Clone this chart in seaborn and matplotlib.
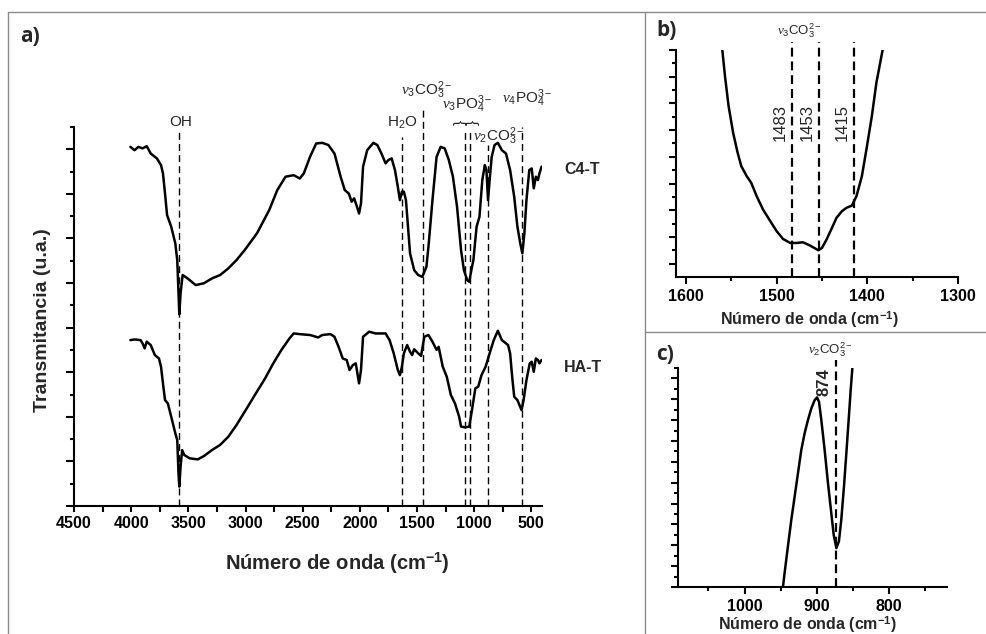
import numpy as np
import pandas as pd
import matplotlib
matplotlib.use("Agg")
import matplotlib.pyplot as plt
from matplotlib.lines import Line2D
from matplotlib.ticker import MultipleLocator, FixedLocator
import seaborn as sns

# ---------------- datos ----------------
# a) espectros FTIR completos (número de onda, transmitancia en u.a.)
c4t_wn = [4007, 3971, 3936, 3900, 3864, 3829, 3775, 3739, 3722, 3704, 3686, 3650, 3614, 3597,
          3579, 3568, 3550, 3507, 3436, 3364, 3293, 3222, 3150, 3079, 3007, 2900, 2793, 2722,
          2650, 2579, 2525, 2490, 2436, 2382, 2329, 2275, 2222, 2168, 2132, 2097, 2072, 2050,
          2025, 2007, 1990, 1972, 1936, 1882, 1847, 1811, 1775, 1750, 1722, 1693, 1668, 1650,
          1632, 1615, 1597, 1579, 1561, 1525, 1490, 1454, 1418, 1400, 1365, 1329, 1293, 1258,
          1222, 1186, 1150, 1115, 1090, 1061, 1043, 1025, 1007, 979, 954, 929, 907, 893, 879,
          865, 847, 822, 793, 758, 722, 686, 650, 622, 597, 579, 561, 543, 518, 497, 479, 461,
          443, 429, 411]
c4t_t = [16.11, 15.96, 16.11, 16.04, 16.14, 15.81, 15.59, 15.29, 14.92, 14.02, 13.05, 12.53,
         11.78, 11.03, 8.60, 9.54, 10.36, 10.21, 9.91, 9.99, 10.21, 10.36, 10.66, 11.03, 11.48,
         12.23, 13.27, 14.17, 14.77, 14.84, 14.69, 14.92, 15.66, 16.26, 16.29, 16.19, 15.81,
         14.77, 14.17, 14.02, 13.65, 13.80, 13.42, 13.12, 13.57, 15.22, 15.96, 16.29, 16.19,
         15.81, 15.37, 15.52, 15.59, 15.07, 14.32, 13.72, 14.10, 14.10, 13.72, 12.53, 11.33,
         10.58, 10.36, 10.28, 10.73, 11.63, 13.72, 15.66, 16.11, 16.04, 15.52, 14.77, 13.42,
         11.48, 10.58, 10.13, 10.06, 10.58, 11.03, 12.53, 12.97, 14.62, 15.29, 15.07, 13.72,
         14.62, 15.66, 16.19, 16.29, 15.96, 15.81, 15.07, 13.87, 12.53, 11.78, 11.33, 12.23,
         13.72, 15.07, 15.14, 14.25, 14.77, 14.62, 14.92, 15.22]

hat_wn = [4007, 3971, 3918, 3900, 3882, 3864, 3829, 3793, 3757, 3739, 3722, 3704, 3679, 3650,
          3614, 3597, 3586, 3579, 3568, 3554, 3536, 3489, 3418, 3364, 3293, 3222, 3150, 3079,
          3007, 2900, 2829, 2757, 2686, 2615, 2579, 2507, 2436, 2364, 2329, 2257, 2222, 2186,
          2150, 2115, 2090, 2061, 2036, 2007, 1990, 1972, 1918, 1864, 1775, 1740, 1704, 1668,
          1650, 1632, 1615, 1586, 1561, 1543, 1525, 1490, 1465, 1436, 1400, 1365, 1329, 1311,
          1275, 1240, 1204, 1168, 1132, 1115, 1079, 1043, 1015, 990, 965, 936, 900, 865, 829,
          793, 758, 704, 686, 668, 650, 622, 586, 568, 543, 514, 497, 479, 461, 443, 429, 411]
hat_t = [7.44, 7.47, 7.44, 7.29, 7.07, 7.37, 7.22, 6.77, 6.62, 6.25, 5.50, 4.75, 4.60, 4.01,
         3.26, 2.96, 1.46, 0.87, 1.76, 2.51, 2.29, 2.14, 2.09, 2.24, 2.51, 2.74, 3.11, 3.63,
         4.23, 5.13, 5.72, 6.40, 7.00, 7.52, 7.74, 7.70, 7.67, 7.56, 7.67, 7.71, 7.59, 7.14,
         6.62, 6.55, 6.10, 6.32, 6.40, 5.50, 6.10, 7.59, 7.82, 7.74, 7.74, 7.44, 6.85, 6.10,
         5.87, 6.25, 6.85, 7.22, 6.92, 6.77, 7.03, 6.85, 6.73, 7.59, 7.67, 7.37, 7.00, 7.14,
         6.25, 5.80, 4.98, 4.60, 4.01, 3.56, 3.53, 3.56, 4.45, 5.28, 5.35, 5.87, 6.25, 6.85,
         7.44, 7.86, 7.44, 7.22, 6.85, 5.80, 4.90, 4.75, 4.30, 4.75, 5.65, 6.40, 6.47, 6.02,
         6.62, 6.55, 6.40, 6.55]

# bandas marcadas en a)
band_pos = [3580, 1631, 1450, 1082, 1038, 876, 579]
band_top = [16.85, 16.55, 17.95, 16.9, 16.9, 16.2, 17.0]

# b) zoom de la banda v3 CO3
b_wn = [1560, 1557, 1553, 1548, 1543, 1539, 1533, 1528, 1522, 1515, 1507, 1500, 1493, 1485,
        1478, 1471, 1463, 1454, 1450, 1445, 1439, 1434, 1428, 1423, 1417, 1412, 1406, 1401,
        1395, 1390, 1383]
b_t = [17.05, 15.05, 12.80, 10.80, 9.30, 8.30, 7.55, 7.05, 6.05, 5.05, 4.18, 3.43, 2.85,
       2.55, 2.55, 2.60, 2.35, 2.00, 2.18, 2.80, 3.68, 4.43, 4.93, 5.18, 5.35, 6.05, 7.55,
       9.55, 12.05, 14.55, 17.05]
b_peaks = [1483, 1453, 1415]

# c) zoom de la banda v2 CO3
c_wn = [947, 944.6, 940, 935.3, 930.7, 926.1, 921.5, 916.9, 912.3, 907.6, 903, 899.8, 897,
        893.8, 889.2, 884.6, 880, 876.7, 873, 869.5, 866.2, 862.5, 859.2, 856, 853.2, 850.9]
c_t = [-0.1, 1.34, 3.89, 6.44, 8.67, 10.91, 13.14, 14.74, 16.01, 17.13, 17.92, 18.18, 17.76,
       16.01, 13.14, 9.95, 7.08, 5.0, 3.73, 4.37, 6.44, 9.63, 12.82, 16.01, 18.88, 20.96]
c_peaks = [874]

# ---------------- estilo ----------------
sns.set_style("ticks")
plt.rcParams["font.family"] = ["Liberation Sans", "DejaVu Sans"]
plt.rcParams.update({
    "mathtext.fontset": "custom",
    "mathtext.rm": "Liberation Sans",
    "mathtext.it": "Liberation Serif:italic",
    "mathtext.bf": "Liberation Sans:bold",
    "axes.linewidth": 1.5,
    "xtick.direction": "out",
    "ytick.direction": "out",
    "xtick.color": "black",
    "ytick.color": "black",
    "axes.edgecolor": "black",
})
SANS = ["Liberation Sans", "DejaVu Sans"]

W, H = 987, 634
fig = plt.figure(figsize=(W / 100, H / 100), dpi=100)


def rect(x0, y0, x1, y1):
    # pixeles (arriba-izquierda) -> coordenadas de figura
    return [x0 / W, 1 - y1 / H, (x1 - x0) / W, (y1 - y0) / H]


def estilo_ejes(ax):
    sns.despine(ax=ax)
    ax.tick_params(which="major", length=5, width=1.5)
    ax.tick_params(which="minor", length=3, width=1.5)
    ax.tick_params(axis="y", labelleft=False)
    for lab in ax.get_xticklabels():
        lab.set_fontweight("bold")
        lab.set_fontsize(11.5)


# ---------------- a) ----------------
ax_a = fig.add_axes(rect(74, 127, 542, 506))
df_a = pd.DataFrame({
    "wn": c4t_wn + hat_wn,
    "t": c4t_t + hat_t,
    "muestra": ["C4-T"] * len(c4t_wn) + ["HA-T"] * len(hat_wn),
})
sns.lineplot(data=df_a, x="wn", y="t", hue="muestra", units="muestra", estimator=None,
             palette=["black", "black"], linewidth=1.8, sort=False, legend=False, ax=ax_a)
ax_a.vlines(band_pos, 0, band_top, colors="black", linestyles=(0, (5, 3)), linewidth=1.0,
            clip_on=False, zorder=1)
ax_a.set_xlim(4500, 407)
ax_a.set_ylim(0, 17)
ax_a.xaxis.set_major_locator(FixedLocator([4500, 4000, 3500, 3000, 2500, 2000, 1500, 1000, 500]))
ax_a.xaxis.set_minor_locator(FixedLocator([4250, 3750, 3250, 2750, 2250, 1750, 1250, 750]))
ax_a.yaxis.set_major_locator(MultipleLocator(2))
ax_a.yaxis.set_minor_locator(MultipleLocator(1))
estilo_ejes(ax_a)
ax_a.tick_params(axis="y", which="major", length=6)
ax_a.tick_params(axis="x", which="both", length=4)
ax_a.set_xlabel("Número de onda (cm$^{\\mathbf{-1}}$)", fontsize=14.5, fontweight="bold")
ax_a.xaxis.set_label_coords(0.562, -0.117)
ax_a.set_ylabel("Transmitancia (u.a.)", fontsize=14, fontweight="bold")
ax_a.yaxis.set_label_coords(-0.05, 0.49)

txt = dict(fontsize=11, ha="center", va="baseline", clip_on=False, family=SANS)
ax_a.text(3565, 17.05, "OH", **txt)
ax_a.text(1631, 17.0, r"H$_2$O", **txt)
ax_a.text(1418, 18.45, r"$\nu_3$CO$_3^{2-}$", **txt)
ax_a.text(1061, 17.85, r"$\nu_3$PO$_4^{3-}$", **txt)
ax_a.text(788, 16.38, r"$\nu_2$CO$_3^{2-}$", **txt)
ax_a.text(541, 18.08, r"$\nu_4$PO$_4^{3-}$", **txt)
for xb in [1120, 1010]:
    ax_a.text(xb, 17.22, "}", rotation=90, fontsize=11, ha="center", va="center",
              clip_on=False, family=SANS)
ax_a.text(212, 15.1, "C4-T", fontsize=11.5, fontweight="bold", ha="left", va="center", clip_on=False)
ax_a.text(212, 6.2, "HA-T", fontsize=11.5, fontweight="bold", ha="left", va="center", clip_on=False)

# ---------------- b) ----------------
ax_b = fig.add_axes(rect(676, 50, 958, 277))
sns.lineplot(x=b_wn, y=b_t, color="black", linewidth=1.8, sort=False, estimator=None, ax=ax_b)
ax_b.vlines(b_peaks, 0, 17.6, colors="black", linestyles=(0, (4, 2.2)), linewidth=1.6,
            clip_on=False)
ax_b.set_xlim(1611, 1300)
ax_b.set_ylim(0, 17)
ax_b.xaxis.set_major_locator(FixedLocator([1600, 1500, 1400, 1300]))
ax_b.xaxis.set_minor_locator(FixedLocator([1550, 1450, 1350]))
ax_b.yaxis.set_major_locator(FixedLocator(list(range(1, 18, 2))))
ax_b.yaxis.set_minor_locator(FixedLocator(list(range(2, 17, 2))))
estilo_ejes(ax_b)
ax_b.set_xlabel("Número de onda (cm$^{\\mathbf{-1}}$)", fontsize=11.5, fontweight="bold")
ax_b.xaxis.set_label_coords(0.475, -0.14)
for p in b_peaks:
    ax_b.annotate(str(p), xy=(p, 11.55), xytext=(-3, 0), textcoords="offset points",
                  rotation=90, ha="right", va="center", fontsize=12, family=SANS)
ax_b.text(1475, 18.15, r"$\nu_3$CO$_3^{2-}$", fontsize=9.5, ha="center", va="baseline",
          clip_on=False, family=SANS)

# ---------------- c) ----------------
ax_c = fig.add_axes(rect(678, 368, 947, 587))
sns.lineplot(x=c_wn, y=c_t, color="black", linewidth=1.8, sort=False, estimator=None, ax=ax_c)
ax_c.vlines(c_peaks, 0, 21.75, colors="black", linestyles=(0, (4, 2.2)), linewidth=1.6,
            clip_on=False)
ax_c.set_xlim(1092, 720)
ax_c.set_ylim(0, 21)
ax_c.xaxis.set_major_locator(FixedLocator([1000, 900, 800]))
ax_c.xaxis.set_minor_locator(FixedLocator([1050, 950, 850, 750]))
ax_c.yaxis.set_major_locator(MultipleLocator(2))
ax_c.yaxis.set_minor_locator(MultipleLocator(1))
estilo_ejes(ax_c)
ax_c.set_xlabel("Número de onda (cm$^{\\mathbf{-1}}$)", fontsize=11.5, fontweight="bold")
ax_c.xaxis.set_label_coords(0.48, -0.125)
for p in c_peaks:
    ax_c.annotate(str(p), xy=(p, 19.6), xytext=(-3, 0), textcoords="offset points",
                  rotation=90, ha="right", va="center", fontsize=12, fontweight="bold",
                  family=SANS)
ax_c.text(881, 22.3, r"$\nu_2$CO$_3^{2-}$", fontsize=9.5, ha="center", va="baseline",
          clip_on=False, family=SANS)

# ---------------- marcos y letras de panel ----------------
gris = "#8a8a8a"
for (x0, y0, x1, y1) in [(8, 11.5, 987, 11.5), (8, 11.5, 8, 634), (645, 11.5, 645, 634),
                         (645, 332, 987, 332)]:
    fig.add_artist(Line2D([x0 / W, x1 / W], [1 - y0 / H, 1 - y1 / H], color=gris,
                          linewidth=1.0, transform=fig.transFigure))

for lab, x, y in [("a)", 20, 37), ("b)", 656, 31), ("c)", 656, 354)]:
    fig.text(x / W, 1 - y / H, lab, fontsize=15, fontweight="bold", family="Open Sans",
             ha="left", va="center")

fig.savefig("out.png", dpi=100)
